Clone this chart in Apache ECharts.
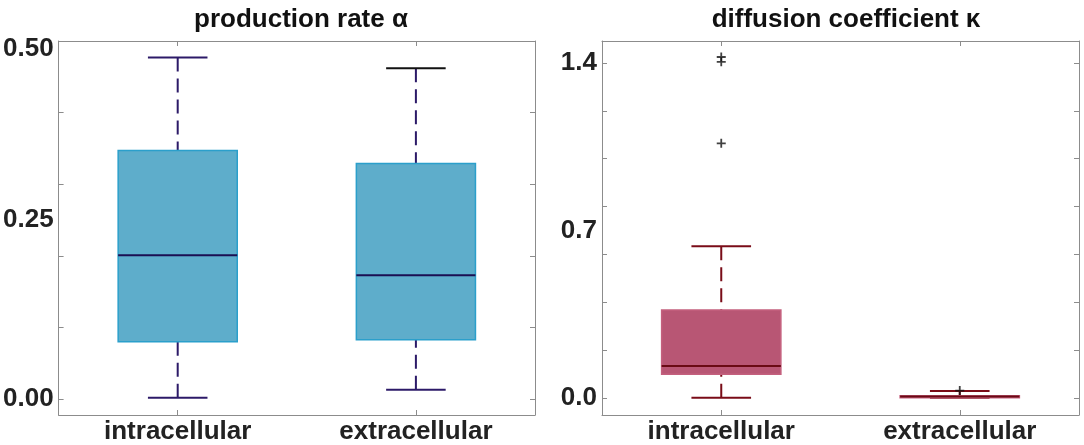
<!DOCTYPE html>
<html>
<head>
<meta charset="utf-8">
<script src="https://cdn.jsdelivr.net/npm/echarts@6/dist/echarts.min.js"></script>
<style>
  html, body { margin: 0; padding: 0; background: #fff; }
  #main { width: 1084px; height: 445px; }
</style>
</head>
<body>
<div id="main"></div>
<script>
// categories on both panels
var categories = ['intracellular', 'extracellular'];

// box values: [low whisker, Q1, median, Q3, high whisker]
var alphaIntra = [0.002, 0.080, 0.201, 0.347, 0.477];
var alphaExtra = [0.013, 0.083, 0.173, 0.329, 0.462];
var kappaIntra = [0.000, 0.098, 0.133, 0.367, 0.634];
var kappaExtra = [0.000, 0.001, 0.005, 0.008, 0.028];

// outliers [category index, value]
var kappaOutliers = [[0, 1.425], [0, 1.405], [0, 1.064], [1, 0.030]];

// ticks and labels
var alphaTicks = [0, 0.1, 0.2, 0.3, 0.4, 0.5];
var alphaLabels = [0, 0.25, 0.5];
var kappaTicks = [0, 0.2, 0.4, 0.6, 0.8, 1.0, 1.2, 1.4];
var kappaLabels = [0, 0.7, 1.4];

var chart = echarts.init(document.getElementById('main'));

var FONT = '"Liberation Sans", Arial, sans-serif';
var frame = '#8c8c8c';

// draws one box: dashed whiskers, short caps, filled box, median
function boxRenderer(st) {
  return function (params, api) {
    var x = api.value(0);
    var lo = api.coord([x, api.value(1)]);
    var q1 = api.coord([x, api.value(2)]);
    var md = api.coord([x, api.value(3)]);
    var q3 = api.coord([x, api.value(4)]);
    var hi = api.coord([x, api.value(5)]);
    var band = api.size([1, 0])[0];
    var bw = band * 0.5, cw = band * 0.25;
    var cx = lo[0];
    var capHi = st.hiCap[params.dataIndex];
    return {
      type: 'group',
      children: [
        { type: 'line', shape: { x1: cx, y1: hi[1], x2: cx, y2: q3[1] },
          style: { stroke: st.whisker, lineWidth: 2, lineDash: [14, 7] } },
        { type: 'line', shape: { x1: cx, y1: lo[1], x2: cx, y2: q1[1] },
          style: { stroke: st.whisker, lineWidth: 2, lineDash: [14, 7] } },
        { type: 'line', shape: { x1: cx - cw / 2, y1: lo[1], x2: cx + cw / 2, y2: lo[1] },
          style: { stroke: st.whisker, lineWidth: 2 } },
        { type: 'line', shape: { x1: cx - cw / 2, y1: hi[1], x2: cx + cw / 2, y2: hi[1] },
          style: { stroke: capHi, lineWidth: 2 } },
        { type: 'rect', shape: { x: cx - bw / 2, y: q3[1], width: bw, height: Math.max(q1[1] - q3[1], 2) },
          style: { fill: st.fill, stroke: st.border, lineWidth: 1.5 } },
        { type: 'line', shape: { x1: cx - bw / 2, y1: md[1], x2: cx + bw / 2, y2: md[1] },
          style: { stroke: st.median, lineWidth: 2 } }
      ]
    };
  };
}

function catAxis(gridIndex, pos) {
  return {
    type: 'category', gridIndex: gridIndex, position: pos,
    data: categories, boundaryGap: true,
    axisLine: { show: true, onZero: false, lineStyle: { color: frame, width: 1 } },
    axisTick: { show: true, inside: true, alignWithLabel: true, length: 5, lineStyle: { color: frame } },
    axisLabel: pos === 'bottom' ? {
      show: true, color: '#222', fontFamily: FONT, fontWeight: 'bold', fontSize: 26, margin: 4
    } : { show: false },
    splitLine: { show: false }
  };
}

function valAxis(gridIndex, pos, min, max, ticks, labels, fmt) {
  return {
    type: 'value', gridIndex: gridIndex, position: pos,
    min: min, max: max,
    axisLine: { show: true, onZero: false, lineStyle: { color: frame, width: 1 } },
    axisTick: { show: true, inside: true, length: 5, customValues: ticks, lineStyle: { color: frame } },
    axisLabel: pos === 'left' ? {
      show: true, customValues: labels, formatter: fmt,
      color: '#222', fontFamily: FONT, fontWeight: 'bold', fontSize: 26, margin: 5,
      rich: { t: { padding: [16, 0, 0, 0], color: '#222', fontFamily: FONT, fontWeight: 'bold', fontSize: 26 } }
    } : { show: false },
    splitLine: { show: false }
  };
}

var option = {
  animation: false,
  backgroundColor: '#fff',
  title: [
    { text: 'production rate α', left: 296, top: 2, textAlign: 'center',
      textStyle: { fontFamily: FONT, fontWeight: 'bold', fontSize: 26, color: '#111' } },
    { text: 'diffusion coefficient κ', left: 841, top: 2, textAlign: 'center',
      textStyle: { fontFamily: FONT, fontWeight: 'bold', fontSize: 26, color: '#111' } }
  ],
  grid: [
    { left: 58, top: 41, width: 477, height: 377 },
    { left: 602, top: 41, width: 477, height: 377 }
  ],
  xAxis: [
    catAxis(0, 'bottom'), catAxis(0, 'top'),
    catAxis(1, 'bottom'), catAxis(1, 'top')
  ],
  yAxis: [
    valAxis(0, 'left', -0.0222, 0.5, alphaTicks, alphaLabels, function (v) {
      return v === 0.5 ? '{t|0.50}' : v.toFixed(2);
    }),
    valAxis(0, 'right', -0.0222, 0.5, alphaTicks, alphaLabels),
    valAxis(1, 'left', -0.072, 1.492, kappaTicks, kappaLabels, function (v) {
      return v.toFixed(1);
    }),
    valAxis(1, 'right', -0.072, 1.492, kappaTicks, kappaLabels)
  ],
  series: [
    {
      name: 'alpha', type: 'custom', xAxisIndex: 0, yAxisIndex: 0,
      encode: { x: 0, y: [1, 2, 3, 4, 5] },
      renderItem: boxRenderer({
        fill: '#5eadcb', border: '#2b9fcb', whisker: '#2c1a68', median: '#1b0f52',
        hiCap: ['#2c1a68', '#111111']
      }),
      data: [[0].concat(alphaIntra), [1].concat(alphaExtra)]
    },
    {
      name: 'kappa', type: 'custom', xAxisIndex: 2, yAxisIndex: 2,
      encode: { x: 0, y: [1, 2, 3, 4, 5] },
      renderItem: boxRenderer({
        fill: '#b85674', border: '#c4607e', whisker: '#7a0c18', median: '#6a0a14',
        hiCap: ['#7a0c18', '#7a0c18']
      }),
      data: [[0].concat(kappaIntra), [1].concat(kappaExtra)]
    },
    {
      name: 'outliers', type: 'scatter', xAxisIndex: 2, yAxisIndex: 2,
      symbol: 'path://M3.2,0H4.8V3.2H8V4.8H4.8V8H3.2V4.8H0V3.2H3.2Z',
      symbolSize: 9,
      itemStyle: { color: '#111' },
      data: kappaOutliers
    }
  ]
};

chart.setOption(option);
window.onresize = chart.resize;
</script>
</body>
</html>
